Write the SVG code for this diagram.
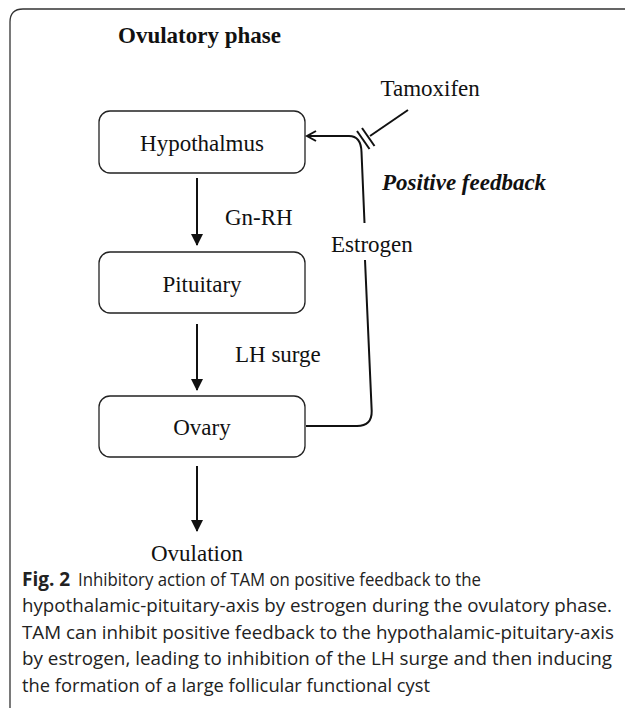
<svg xmlns="http://www.w3.org/2000/svg" width="625" height="708" viewBox="0 0 625 708">
<style>
.box{fill:#fff;stroke:#222;stroke-width:1.3}
.t{font-family:"Liberation Serif","Times New Roman",serif;font-size:23px;fill:#111}
.ln{fill:none;stroke:#111;stroke-width:2}
.cap{font-family:"Open Sans","Noto Sans",sans-serif;font-size:19px;fill:#222}
</style>
<defs>
<marker id="tri" markerWidth="12" markerHeight="12" refX="11" refY="6" orient="auto" markerUnits="userSpaceOnUse">
<path d="M0,0 L12,6 L0,12 Z" fill="#111"/>
</marker>
<marker id="open" markerWidth="12" markerHeight="12" refX="10" refY="6" orient="auto" markerUnits="userSpaceOnUse">
<path d="M1,1 L10,6 L1,11" fill="none" stroke="#111" stroke-width="2"/>
</marker>
</defs>
<path d="M625,9 H23 Q10,9 10,22 V708" fill="none" stroke="#333" stroke-width="1.3"/>
<text class="t" x="118" y="43" font-weight="bold">Ovulatory phase</text>
<g id="hypothalmus">
<rect class="box" x="99" y="111" width="206" height="62" rx="11"/>
<text class="t" x="202" y="151" text-anchor="middle">Hypothalmus</text>
</g>
<g id="pituitary">
<rect class="box" x="99" y="252" width="206" height="61" rx="11"/>
<text class="t" x="202" y="292" text-anchor="middle">Pituitary</text>
</g>
<g id="ovary">
<rect class="box" x="99" y="396" width="206" height="61" rx="11"/>
<text class="t" x="202" y="435" text-anchor="middle">Ovary</text>
</g>
<g id="ovulation">
<text class="t" x="197" y="561" text-anchor="middle">Ovulation</text>
</g>
<g id="tamoxifen">
<text class="t" x="380.5" y="96">Tamoxifen</text>
</g>
<g id="connectors">
<line class="ln" x1="197" y1="178" x2="197" y2="245" marker-end="url(#tri)"/>
<line class="ln" x1="197" y1="324" x2="197" y2="390" marker-end="url(#tri)"/>
<line class="ln" x1="197" y1="466" x2="197" y2="531" marker-end="url(#tri)"/>
<path class="ln" d="M306,426 H357 Q372,426 371.7,411 L365,260"/>
<path class="ln" d="M364.5,223 L361.5,152 Q361,136 349,136 H307" marker-end="url(#open)"/>
<line class="ln" x1="408" y1="110" x2="370" y2="136"/>
<line class="ln" x1="362" y1="128" x2="374.5" y2="146"/>
<line class="ln" x1="357" y1="131" x2="369.5" y2="149"/>
<text class="t" x="225" y="225">Gn-RH</text>
<text class="t" x="331" y="252">Estrogen</text>
<text class="t" x="382" y="190" font-weight="bold" font-style="italic">Positive feedback</text>
<text class="t" x="235" y="362">LH surge</text>
</g>
<g id="caption">
<text class="cap" x="22" y="586"><tspan font-weight="bold">Fig. 2</tspan><tspan x="78" textLength="403" lengthAdjust="spacingAndGlyphs">Inhibitory action of TAM on positive feedback to the</tspan></text>
<text class="cap" x="22" y="612" textLength="590" lengthAdjust="spacingAndGlyphs">hypothalamic-pituitary-axis by estrogen during the ovulatory phase.</text>
<text class="cap" x="22" y="639" textLength="592" lengthAdjust="spacingAndGlyphs">TAM can inhibit positive feedback to the hypothalamic-pituitary-axis</text>
<text class="cap" x="22" y="665" textLength="590" lengthAdjust="spacingAndGlyphs">by estrogen, leading to inhibition of the LH surge and then inducing</text>
<text class="cap" x="22" y="692" textLength="408" lengthAdjust="spacingAndGlyphs">the formation of a large follicular functional cyst</text>
</g>
</svg>
